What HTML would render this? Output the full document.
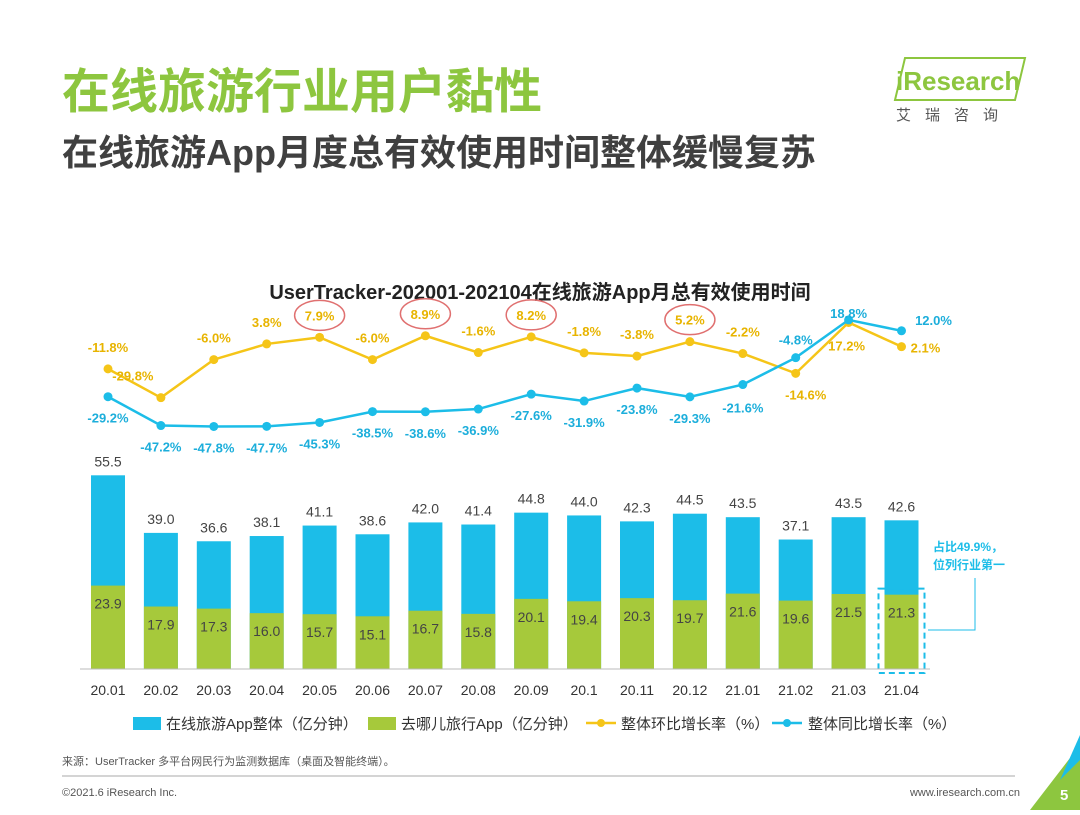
<!DOCTYPE html>
<html><head><meta charset="utf-8">
<style>
body{margin:0;width:1080px;height:810px;background:#fff;overflow:hidden;font-family:"Liberation Sans","Noto Sans CJK SC",sans-serif;}
svg text{font-family:"Liberation Sans","Noto Sans CJK SC",sans-serif;}
</style></head>
<body>
<svg id="c" width="1080" height="810" xmlns="http://www.w3.org/2000/svg">
<text x="62" y="108" font-size="48" fill="#8dc63f" font-weight="bold">在线旅游行业用户黏性</text>
<text x="62" y="165" font-size="36" fill="#404040" font-weight="bold">在线旅游App月度总有效使用时间整体缓慢复苏</text>
<g>
<polygon points="905,58 1025,58 1015,100 895,100" fill="none" stroke="#8dc63f" stroke-width="2"/>
<text x="896" y="90" font-size="26" fill="#8dc63f" font-weight="bold">iResearch</text>
<text x="896" y="120" font-size="15" fill="#555" letter-spacing="14">艾瑞咨询</text>
</g>
<text x="540" y="299" font-size="20" font-weight="bold" fill="#222" text-anchor="middle">UserTracker-202001-202104在线旅游App月总有效使用时间</text>
<g id="bars"></g><g id="lines"></g>
<line x1="80" y1="669" x2="930" y2="669" stroke="#bbb"/>
<g>
<polyline points="928,630 975,630 975,578" fill="none" stroke="#1cbde8" stroke-width="1"/>
<text x="933" y="551" font-size="12" fill="#1cbde8" font-weight="bold">占比49.9%，</text>
<text x="933" y="569" font-size="12" fill="#1cbde8" font-weight="bold">位列行业第一</text>
</g>
<g font-size="15" fill="#333">
<rect x="133" y="717" width="28" height="13" fill="#1cbde8"/><text x="166" y="729">在线旅游App整体（亿分钟）</text>
<rect x="368" y="717" width="28" height="13" fill="#a6c93b"/><text x="401" y="729">去哪儿旅行App（亿分钟）</text>
<line x1="586" y1="723" x2="616" y2="723" stroke="#f5c518" stroke-width="2.5"/><circle cx="601" cy="723" r="4" fill="#f5c518"/><text x="621" y="729">整体环比增长率（%）</text>
<line x1="772" y1="723" x2="802" y2="723" stroke="#1cbde8" stroke-width="2.5"/><circle cx="787" cy="723" r="4" fill="#1cbde8"/><text x="808" y="729">整体同比增长率（%）</text>
</g>
<text x="62" y="765" font-size="11" fill="#555">来源：UserTracker 多平台网民行为监测数据库（桌面及智能终端）。</text>
<line x1="62" y1="776" x2="1015" y2="776" stroke="#aaa"/>
<text x="62" y="796" font-size="11" fill="#555">©2021.6 iResearch Inc.</text>
<text x="1020" y="796" font-size="11" fill="#555" text-anchor="end">www.iresearch.com.cn</text>
<polygon points="1080,745 1080,810 1030,810" fill="#8dc63f"/>
<polygon points="1080,735 1080,760 1060,780" fill="#1cbde8"/>
<text x="1060" y="800" font-size="15" fill="#fff" font-weight="bold">5</text>
</svg>
<script>
const categories=["20.01","20.02","20.03","20.04","20.05","20.06","20.07","20.08","20.09","20.1","20.11","20.12","21.01","21.02","21.03","21.04"];
const totalValues=[55.5,39.0,36.6,38.1,41.1,38.6,42.0,41.4,44.8,44.0,42.3,44.5,43.5,37.1,43.5,42.6];
const qunarValues=[23.9,17.9,17.3,16.0,15.7,15.1,16.7,15.8,20.1,19.4,20.3,19.7,21.6,19.6,21.5,21.3];
const momValues=[-11.8,-29.8,-6.0,3.8,7.9,-6.0,8.9,-1.6,8.2,-1.8,-3.8,5.2,-2.2,-14.6,17.2,2.1];
const yoyValues=[-29.2,-47.2,-47.8,-47.7,-45.3,-38.5,-38.6,-36.9,-27.6,-31.9,-23.8,-29.3,-21.6,-4.8,18.8,12.0];
const circled=[4,6,8,11];
const NS="http://www.w3.org/2000/svg";
const xS=i=>108+i*52.9;
const yBar=v=>669-v*3.49;
const yLine=v=>350-v*1.6;
function mk(t,a,p){const e=document.createElementNS(NS,t);for(const k in a)e.setAttribute(k,a[k]);p.appendChild(e);return e;}
const gb=document.getElementById('bars'),gl=document.getElementById('lines');
categories.forEach((c,i)=>{
  const x=xS(i),w=34;
  const b=mk('rect',{x:x-w/2,y:yBar(totalValues[i]),width:w,height:669-yBar(totalValues[i]),fill:'#1cbde8'},gb);
  
  
  const g=mk('rect',{x:x-w/2,y:yBar(qunarValues[i]),width:w,height:669-yBar(qunarValues[i]),fill:'#a6c93b'},gb);
  
  
  const t1=mk('text',{x:x,y:yBar(totalValues[i])-9,'font-size':14,fill:'#444','text-anchor':'middle'},gb);t1.textContent=totalValues[i].toFixed(1);
  
  
  const t2=mk('text',{x:x,y:yBar(qunarValues[i])+23,'font-size':14,fill:'#444','text-anchor':'middle'},gb);t2.textContent=qunarValues[i].toFixed(1);
  
  
  const t3=mk('text',{x:x,y:695,'font-size':14,fill:'#333','text-anchor':'middle'},gb);t3.textContent=c;
  
  
});
const last=categories.length-1;
const box=mk('rect',{x:xS(last)-23,y:yBar(qunarValues[last])-6,width:46,height:669-yBar(qunarValues[last])+10,fill:'none',stroke:'#1cbde8','stroke-width':2,'stroke-dasharray':'6,4'},gb);


function line(vals,color,name){
  const pl=mk('polyline',{points:vals.map((v,i)=>xS(i)+','+yLine(v)).join(' '),fill:'none',stroke:color,'stroke-width':2.5},gl);
  
  
  vals.forEach((v,i)=>{const p=mk('circle',{cx:xS(i),cy:yLine(v),r:4.5,fill:color},gl);
    
    });
}
line(momValues,'#f5c518','mom');
line(yoyValues,'#1cbde8','yoy');
const momOff=[[0,-17],[-28,-17],[0,-17],[0,-17],[0,-17],[0,-17],[0,-17],[0,-17],[0,-17],[0,-17],[0,-17],[0,-17],[0,-17],[10,26],[-2,28],[24,6]];
const yoyOff=[[0,26],[0,26],[0,26],[0,26],[0,26],[0,26],[0,26],[0,26],[0,26],[0,26],[0,26],[0,26],[0,28],[0,-13],[0,-2],[32,-6]];
function labels(vals,off,color,name){
  vals.forEach((v,i)=>{const t=mk('text',{x:xS(i)+off[i][0],y:yLine(v)+off[i][1],'font-size':13,'font-weight':'bold',fill:color,'text-anchor':'middle'},gl);
    t.textContent=v.toFixed(1)+'%';
    
    });
}
labels(momValues,momOff,'#e8b400','mom');
labels(yoyValues,yoyOff,'#1caedb','yoy');
circled.forEach(i=>{const e=mk('ellipse',{cx:xS(i),cy:yLine(momValues[i])-22,rx:25,ry:15,fill:'none',stroke:'#e07070','stroke-width':1.5},gl);
  
  });
</script>
</body></html>
